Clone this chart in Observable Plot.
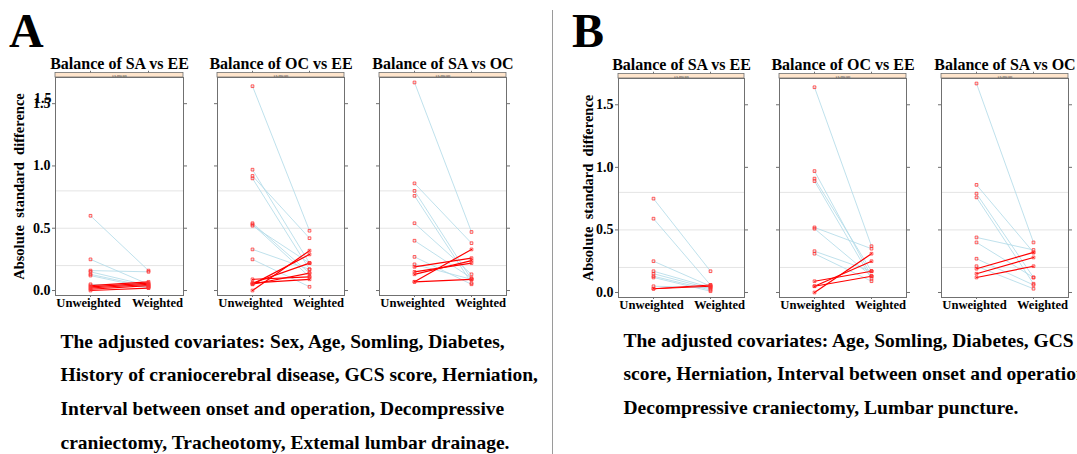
<!DOCTYPE html>
<html><head><meta charset="utf-8">
<script src="https://cdn.jsdelivr.net/npm/d3@7"></script>
<script src="https://cdn.jsdelivr.net/npm/@observablehq/plot@0.6"></script>
<style>
html,body{margin:0;padding:0;background:#fff;overflow:hidden;}
#root{position:relative;width:1077px;height:454px;overflow:hidden;font-family:"Liberation Serif","Times New Roman",serif;color:#000;}
.abs{position:absolute;}
.letter{font-weight:bold;font-size:48px;line-height:1;}
.cap{font-weight:bold;font-size:19.5px;line-height:33.7px;white-space:nowrap;}
</style></head><body><div id="root"></div>
<script>
// ---- data ----
const titles = ["Balance of SA vs EE", "Balance of OC vs EE", "Balance of SA vs OC"];
const xLevels = ["Unweighted", "Weighted"];
const yTicks = [0, 0.5, 1.0, 1.5];
const refLines = [0.2, 0.5, 0.8];
const stripLabel = "es.mean";
const yLabel = "Absolute  standard  difference";

// Panel A
const A_SAEE_unw = [0.60, 0.25, 0.16, 0.15, 0.13, 0.12, 0.05, 0.03, 0.02, 0.01, 0.00, 0.04];
const A_SAEE_w   = [0.16, 0.05, 0.15, 0.04, 0.03, 0.02, 0.03, 0.06, 0.05, 0.04, 0.02, 0.07];
const A_OCEE_unw = [1.64, 0.97, 0.92, 0.90, 0.54, 0.53, 0.52, 0.33, 0.25, 0.00, 0.05, 0.06, 0.09, 0.05, 0.06];
const A_OCEE_w   = [0.48, 0.22, 0.42, 0.17, 0.14, 0.11, 0.22, 0.17, 0.03, 0.32, 0.29, 0.22, 0.11, 0.14, 0.09];
const A_SAOC_unw = [1.67, 0.86, 0.80, 0.76, 0.54, 0.40, 0.27, 0.21, 0.19, 0.13, 0.07, 0.15, 0.07];
const A_SAOC_w   = [0.47, 0.38, 0.09, 0.06, 0.13, 0.10, 0.05, 0.09, 0.26, 0.24, 0.33, 0.22, 0.09];
// Panel B
const B_SAEE_unw = [0.75, 0.59, 0.25, 0.17, 0.15, 0.13, 0.12, 0.05, 0.03, 0.03];
const B_SAEE_w   = [0.17, 0.06, 0.05, 0.04, 0.03, 0.02, 0.01, 0.04, 0.05, 0.06];
const B_OCEE_unw = [1.64, 0.97, 0.91, 0.89, 0.52, 0.51, 0.33, 0.31, 0.00, 0.05, 0.05, 0.09];
const B_OCEE_w   = [0.37, 0.13, 0.17, 0.11, 0.35, 0.13, 0.17, 0.09, 0.31, 0.25, 0.13, 0.17];
const B_SAOC_unw = [1.67, 0.86, 0.79, 0.76, 0.44, 0.40, 0.27, 0.21, 0.19, 0.15, 0.12];
const B_SAOC_w   = [0.40, 0.32, 0.12, 0.07, 0.34, 0.12, 0.06, 0.03, 0.32, 0.28, 0.21];

const captionA = ["The adjusted covariates: Sex, Age, Somling, Diabetes,",
  "History of craniocerebral disease, GCS score, Herniation,",
  "Interval between onset and operation, Decompressive",
  "craniectomy, Tracheotomy, Extemal lumbar drainage."];
const captionB = ["The adjusted covariates: Age, Somling, Diabetes, GCS",
  "score, Herniation, Interval between onset and operation,",
  "Decompressive craniectomy, Lumbar puncture."];

// ---- layout ----
const root = document.getElementById("root");
function addDiv(cls, html, left, top) {
  const d = document.createElement("div");
  d.className = "abs " + cls;
  d.innerHTML = html;
  d.style.left = left + "px";
  d.style.top = top + "px";
  root.appendChild(d);
  return d;
}
addDiv("letter", "A", 9, 7);
addDiv("letter", "B", 572, 7);
const divider = addDiv("", "", 551.5, 10);
divider.style.width = "1.5px"; divider.style.height = "444px"; divider.style.background = "#9a9a9a";
addDiv("cap", captionA.join("<br>"), 60.5, 324.6);
addDiv("cap", captionB.join("<br>"), 623.5, 323.6);

const yDomain = [-0.04, 1.71];
const stripH = 0.036;
const frameCol = "#707070";
const serif = '"Liberation Serif", "Times New Roman", serif';

function facet(spec) {
  const rows = [];
  spec.unw.forEach((u, i) => {
    const dir = spec.w[i] < u ? "down" : "up";
    rows.push({cov: i, stage: xLevels[0], v: u, dir});
    rows.push({cov: i, stage: xLevels[1], v: spec.w[i], dir});
  });
  const yMax = yDomain[1];
  const xText = {tickSize: 0, tickPadding: 3, label: null, fontSize: 12.6, fontWeight: "bold", fill: "#000", anchor: "bottom"};
  const marks = [
    Plot.ruleY(refLines, {stroke: "#e4e4e4", strokeWidth: 1}),
    Plot.line(rows.filter(r => r.dir === "down"), {x: "stage", y: "v", z: "cov", stroke: "#b3dbe9", strokeWidth: 0.85}),
    Plot.line(rows.filter(r => r.dir === "up"), {x: "stage", y: "v", z: "cov", stroke: "#ff0000", strokeWidth: 1.2}),
    Plot.dot(rows, {x: "stage", y: "v", symbol: "square", r: 1.5, fill: "none", stroke: "#ff3030", strokeWidth: 0.8}),
    Plot.frame({stroke: frameCol}),
    Plot.rect([stripLabel], {y1: () => yMax, y2: () => yMax + stripH, fill: "#ffe5cc", stroke: frameCol, strokeWidth: 0.8}),
    Plot.text([stripLabel], {frameAnchor: "top", lineAnchor: "middle", dy: -2.3, fontSize: 4.5, fill: "#444"}),
    Plot.text([spec.title], {frameAnchor: "top", lineAnchor: "middle", dy: -13.5, fontSize: 16, fontWeight: "bold", fill: "#000"}),
    Plot.ruleX(xLevels, {y1: () => yMax + stripH, y2: () => yMax + stripH + 0.014, stroke: frameCol}),
    Plot.axisY(yTicks, {anchor: "left", tickSize: 3, tickPadding: 2, label: null, stroke: frameCol,
      tickFormat: spec.first ? d3.format(".1f") : () => "", fontSize: 14, fontWeight: "bold", fill: "#000"}),
    Plot.axisY(yTicks, {anchor: "right", tickSize: 3, label: null, stroke: frameCol, tickFormat: () => ""}),
    Plot.axisX(xLevels, {anchor: "bottom", tickSize: 2, label: null, stroke: frameCol, tickFormat: () => ""}),
    Plot.axisX([xLevels[0]], {...xText, dx: -2}),
    Plot.axisX([xLevels[1]], {...xText, dx: 9})
  ];
  if (spec.first) {
    marks.push(Plot.text([yLabel], {frameAnchor: "left", rotate: -90, textAnchor: "middle", lineAnchor: "middle",
      dx: spec.labelDx, fontSize: 14.5, fontWeight: "bold", fill: "#000"}));
  }
  if (spec.ghost) {
    marks.push(Plot.text([1.5], {y: d => d, frameAnchor: "left", textAnchor: "end", lineAnchor: "middle", dx: -4, dy: -5,
      text: d => d3.format(".1f")(d), fontSize: 14, fontWeight: "bold", fill: "#000"}));
  }
  const ML = spec.ml, MR = 14;
  const svg = Plot.plot({
    width: ML + spec.fw + MR,
    height: 330,
    marginLeft: ML, marginRight: MR,
    marginTop: spec.mt, marginBottom: 330 - spec.fb,
    x: {type: "point", domain: xLevels, padding: 0.6},
    y: {domain: yDomain},
    style: {fontFamily: serif, background: "transparent", overflow: "visible"},
    marks
  });
  svg.style.position = "absolute";
  svg.style.left = (spec.fl - ML) + "px";
  svg.style.top = "0px";
  root.appendChild(svg);
}

const specs = [
  {title: titles[0], unw: A_SAEE_unw, w: A_SAEE_w, fl: 55, fw: 128, ml: 55, first: true, ghost: true, labelDx: -36, mt: 77, fb: 295},
  {title: titles[1], unw: A_OCEE_unw, w: A_OCEE_w, fl: 217, fw: 127, ml: 14, mt: 77, fb: 295},
  {title: titles[2], unw: A_SAOC_unw, w: A_SAOC_w, fl: 379, fw: 127, ml: 14, mt: 77, fb: 295},
  {title: titles[0], unw: B_SAEE_unw, w: B_SAEE_w, fl: 618, fw: 126, ml: 50, first: true, labelDx: -30, mt: 78, fb: 297},
  {title: titles[1], unw: B_OCEE_unw, w: B_OCEE_w, fl: 779, fw: 127, ml: 14, mt: 78, fb: 297},
  {title: titles[2], unw: B_SAOC_unw, w: B_SAOC_w, fl: 941, fw: 127, ml: 14, mt: 78, fb: 297}
];
specs.forEach(facet);
</script></body></html>
